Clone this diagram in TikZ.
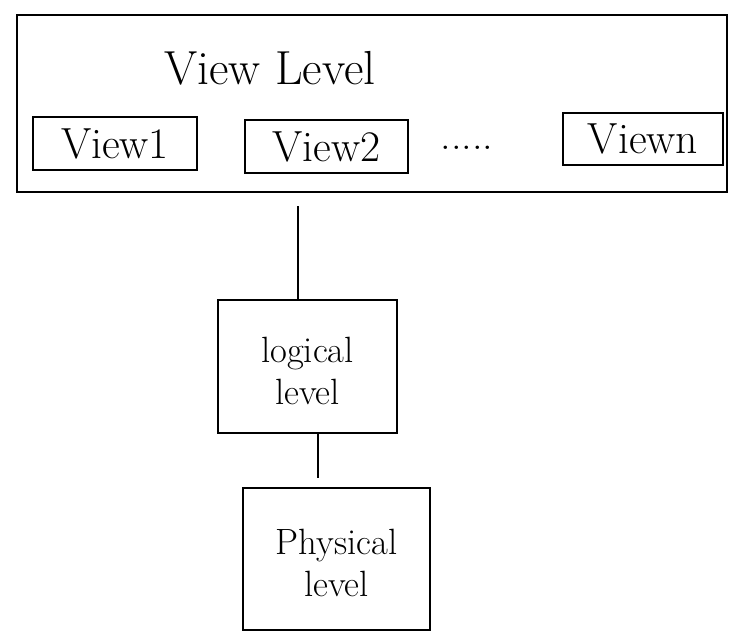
\documentclass[tikz,border=0pt]{standalone}
\usetikzlibrary{fit}
\begin{document}
\begin{tikzpicture}[x=0.025cm,y=-0.025cm,
  box/.style={draw,line width=2pt,inner sep=0pt,rectangle},
  big/.style={font=\fontsize{34}{38}\selectfont},
  vw/.style={font=\fontsize{31}{34}\selectfont},
  mid/.style={font=\fontsize{26}{30}\selectfont,align=center},
  conn/.style={line width=2pt}]
\useasboundingbox (0,0) rectangle (733,635);
% view level outer box
\node[box,fit={(17,15)(727,192)}] (view) {};
\node[big] (vtitle) at (270,68) {View Level};
\node[box,fit={(33,117)(197,170)}] (v1) {};
\node[vw] (t1) at (v1.center) {View1};
\node[box,fit={(245,120)(408,173)}] (v2) {};
\node[vw] (t2) at (v2.center) {View2};
\node[box,fit={(563,113)(723,165)}] (vn) {};
\node[vw] (tn) at (vn.center) {Viewn};
\node[font=\fontsize{30}{34}\selectfont] (dots) at (467,148) {.....};
% logical and physical
\node[box,fit={(218,300)(397,433)}] (logical) {};
\node[mid] (tl) at ([yshift=-3pt]logical.center) {logical\\level};
\node[box,fit={(243,488)(430,630)}] (physical) {};
\node[mid] (tp) at ([yshift=-3pt]physical.center) {Physical\\level};
\coordinate (c1) at (298,0);
\coordinate (c2) at (318,0);
\draw[conn] (view.south -| c1) ++(0,13) -- (logical.north -| c1);
\draw[conn] (logical.south -| c2) -- ([yshift=6pt]physical.north -| c2);
\end{tikzpicture}
\end{document}
